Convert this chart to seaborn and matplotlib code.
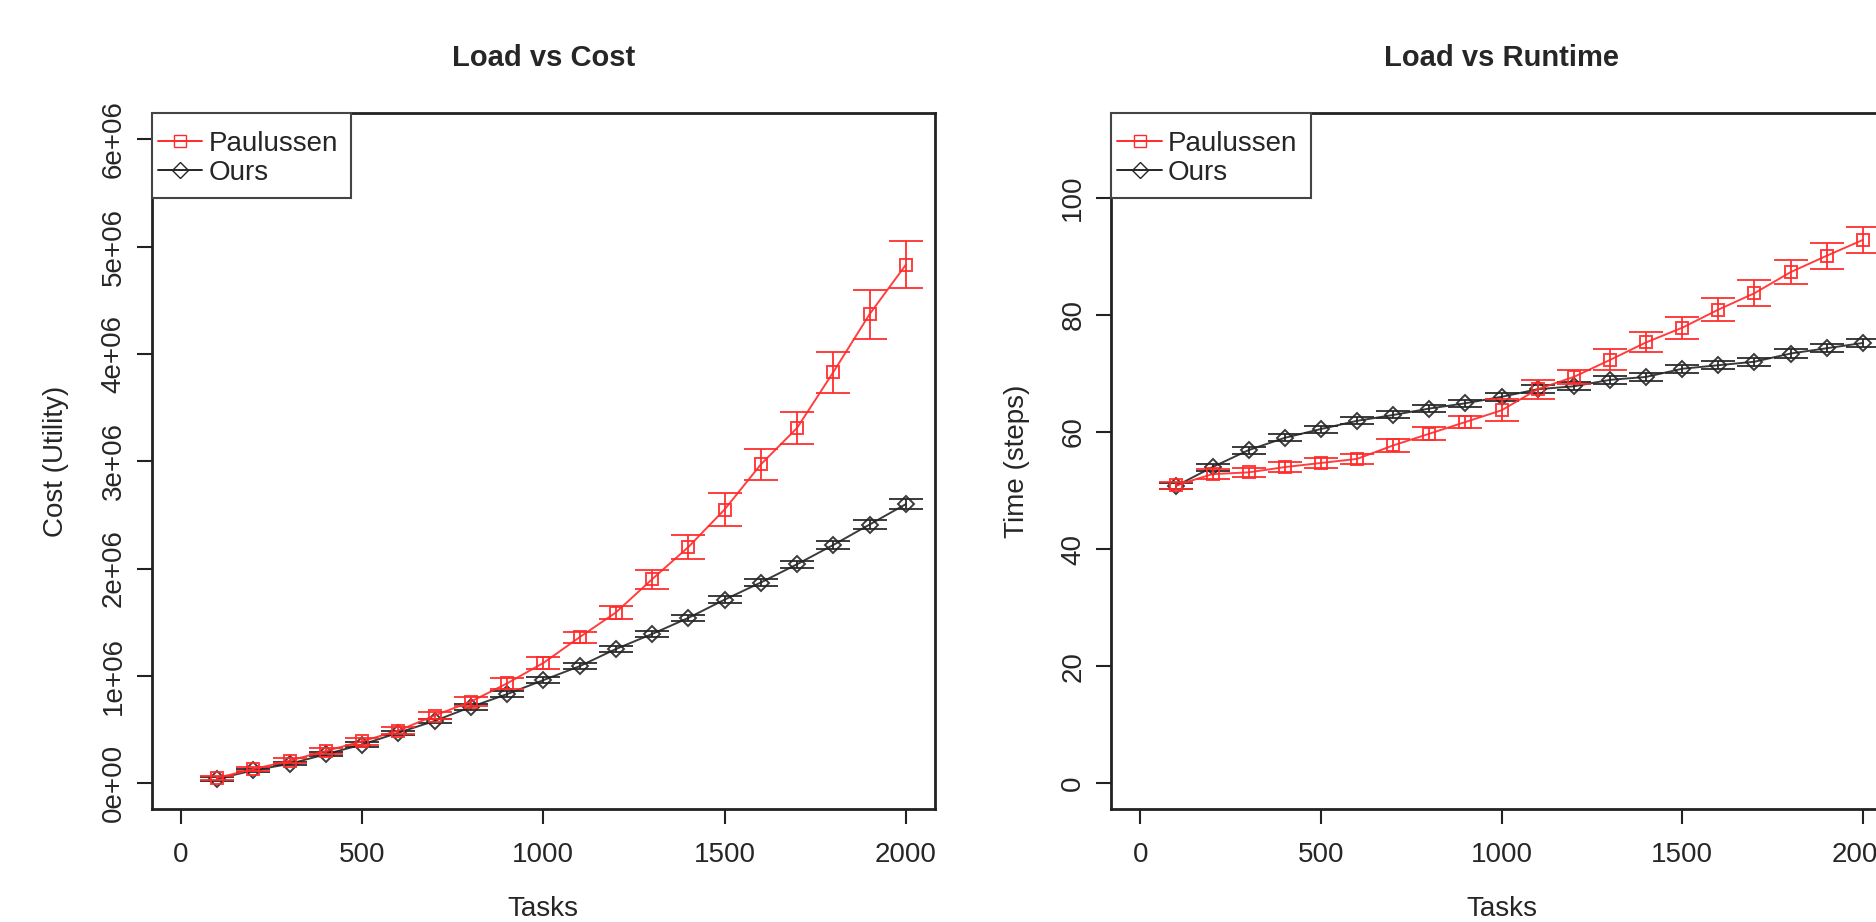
import matplotlib.pyplot as plt
from matplotlib.lines import Line2D
from matplotlib.patches import Rectangle
import seaborn as sns

sns.set_style('white')
plt.rcParams['font.family'] = ['Liberation Sans', 'DejaVu Sans']

# data
tasks = [100, 200, 300, 400, 500, 600, 700, 800, 900, 1000,
         1100, 1200, 1300, 1400, 1500, 1600, 1700, 1800, 1900, 2000]

cost_paulussen = [0.05e6, 0.13e6, 0.21e6, 0.30e6, 0.39e6, 0.49e6, 0.63e6, 0.76e6, 0.93e6, 1.12e6,
                  1.36e6, 1.59e6, 1.90e6, 2.20e6, 2.55e6, 2.97e6, 3.31e6, 3.83e6, 4.37e6, 4.83e6]
cost_paulussen_err = [0.02e6, 0.02e6, 0.025e6, 0.03e6, 0.03e6, 0.03e6, 0.035e6, 0.04e6, 0.05e6, 0.055e6,
                      0.05e6, 0.06e6, 0.09e6, 0.11e6, 0.15e6, 0.145e6, 0.15e6, 0.19e6, 0.23e6, 0.22e6]
cost_ours = [0.04e6, 0.12e6, 0.18e6, 0.27e6, 0.36e6, 0.47e6, 0.58e6, 0.71e6, 0.83e6, 0.96e6,
             1.09e6, 1.25e6, 1.39e6, 1.54e6, 1.71e6, 1.87e6, 2.04e6, 2.22e6, 2.41e6, 2.60e6]
cost_ours_err = [0.015e6, 0.015e6, 0.015e6, 0.02e6, 0.02e6, 0.02e6, 0.02e6, 0.025e6, 0.025e6, 0.025e6,
                 0.03e6, 0.03e6, 0.03e6, 0.03e6, 0.035e6, 0.035e6, 0.035e6, 0.04e6, 0.04e6, 0.045e6]

time_paulussen = [50.9, 52.8, 53.1, 54.0, 54.7, 55.4, 57.7, 59.7, 61.7, 63.7,
                  67.3, 69.4, 72.3, 75.3, 77.8, 80.9, 83.7, 87.3, 90.1, 92.8]
time_paulussen_err = [0.6, 0.9, 0.8, 0.9, 0.9, 0.9, 1.1, 1.1, 1.1, 1.9,
                      1.6, 1.2, 1.8, 1.7, 1.9, 1.9, 2.2, 2.1, 2.2, 2.2]
time_ours = [50.8, 54.0, 56.9, 59.0, 60.5, 61.9, 62.9, 64.0, 64.9, 66.0,
             67.3, 67.8, 68.9, 69.4, 70.8, 71.4, 72.0, 73.4, 74.3, 75.2]
time_ours_err = [0.5, 0.6, 0.6, 0.6, 0.6, 0.6, 0.6, 0.6, 0.6, 0.7,
                 0.7, 0.7, 0.7, 0.7, 0.7, 0.7, 0.7, 0.7, 0.7, 0.7]

cost_ticks = [0, 1e6, 2e6, 3e6, 4e6, 5e6, 6e6]
cost_ticklabels = ['0e+00', '1e+06', '2e+06', '3e+06', '4e+06', '5e+06', '6e+06']
time_ticks = [0, 20, 40, 60, 80, 100]
x_ticks = [0, 500, 1000, 1500, 2000]

RED = '#ff2a2a'
BLACK = '#262626'
FS = 20

fig = plt.figure(figsize=(18.76, 9.22), dpi=100)
ax1 = fig.add_axes([0.0809, 0.1226, 0.4174, 0.7543])
ax2 = fig.add_axes([0.5924, 0.1226, 0.416, 0.7543])


def draw_series(ax, y, err, color, marker, ms):
    sns.lineplot(x=tasks, y=y, color=color, marker=marker, markersize=ms,
                 mfc='none', mec=color, mew=1.4, lw=1.4, ax=ax, alpha=0.9)
    ax.errorbar(tasks, y, yerr=err, fmt='none', ecolor=color, capsize=12,
                elinewidth=1.4, capthick=1.4, alpha=0.9)


def style_axes(ax, title, ylabel, ylim, yticks, yticklabels, box_w):
    ax.set_xlim(-80, 2080)
    ax.set_ylim(*ylim)
    ax.set_xticks(x_ticks)
    ax.set_xticklabels([str(t) for t in x_ticks], fontsize=FS)
    ax.set_yticks(yticks)
    ax.set_yticklabels(yticklabels, rotation=90, va='center', fontsize=FS)
    ax.tick_params(axis='both', direction='out', length=11, width=1.5,
                   color='#222222', bottom=True, left=True)
    ax.tick_params(axis='x', pad=13)
    ax.tick_params(axis='y', pad=7)
    for sp in ax.spines.values():
        sp.set_visible(True)
        sp.set_color('#222222')
        sp.set_linewidth(2.0)
    ax.set_title(title, fontsize=21, fontweight='bold', y=1.068, va='center')
    ax.set_xlabel('Tasks', fontsize=FS, va='top')
    ax.xaxis.set_label_coords(0.5, -0.125)
    ax.set_ylabel(ylabel, fontsize=FS)

    # legend box drawn separately so its padding matches the reference
    ax.add_patch(Rectangle((0, 1 - 0.122), box_w, 0.122, transform=ax.transAxes,
                           facecolor='white', edgecolor='#444444', lw=1.5,
                           clip_on=False, zorder=5))
    handles = [Line2D([], [], color=RED, marker='s', markersize=9, mfc='none', lw=1.4),
               Line2D([], [], color=BLACK, marker='D', markersize=8, mfc='none', lw=1.4)]
    leg = ax.legend(handles, ['Paulussen', 'Ours'], loc='upper left',
                    bbox_to_anchor=(0, 1 - 0.016), borderaxespad=0, frameon=False,
                    handlelength=1.6, handletextpad=0.22, borderpad=0.22, labelspacing=0.1,
                    fontsize=FS)
    leg.set_zorder(6)


draw_series(ax1, cost_ours, cost_ours_err, BLACK, 'D', 8)
draw_series(ax1, cost_paulussen, cost_paulussen_err, RED, 's', 8.5)
style_axes(ax1, 'Load vs Cost', 'Cost (Utility)', (-0.24e6, 6.24e6), cost_ticks, cost_ticklabels, 0.254)
ax1.yaxis.set_label_coords(-0.106, 0.5)

draw_series(ax2, time_ours, time_ours_err, BLACK, 'D', 8)
draw_series(ax2, time_paulussen, time_paulussen_err, RED, 's', 8.5)
style_axes(ax2, 'Load vs Runtime', 'Time (steps)', (-4.4, 114.4), time_ticks,
           [str(t) for t in time_ticks], 0.256)
ax2.yaxis.set_label_coords(-0.104, 0.5)

plt.savefig('out.png', dpi=100, facecolor='w')
